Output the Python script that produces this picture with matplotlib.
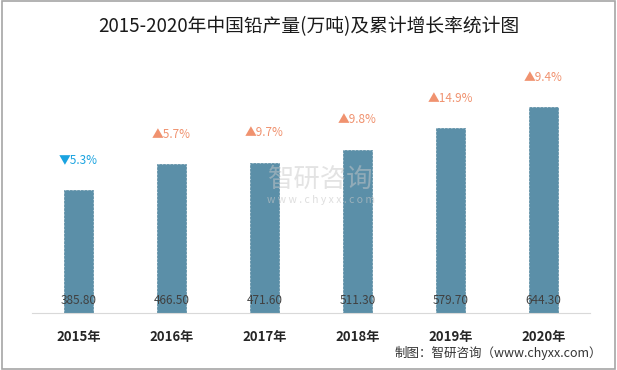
import matplotlib.pyplot as plt
from matplotlib.patches import Rectangle

plt.rcParams['font.family'] = ['Noto Sans CJK SC', 'DejaVu Sans']

years = ['2015年', '2016年', '2017年', '2018年', '2019年', '2020年']
output = [385.80, 466.50, 471.60, 511.30, 579.70, 644.30]
growth = [-5.3, 5.7, 9.7, 9.8, 14.9, 9.4]

fig = plt.figure(figsize=(6.17, 3.70), dpi=100)
ax = fig.add_axes([0.052, 0.154, 0.904, 0.69])

x = range(len(years))
ax.bar(x, output, width=0.31, color='#5B8FA8', edgecolor='#54879F',
       linewidth=0.5, linestyle='--')

for i, v in enumerate(output):
    ax.annotate(f'{v:.2f}', (i, 0), xytext=(0, 13), textcoords='offset pixels',
                ha='center', va='center', fontsize=8.5, color='#404040')
    g = growth[i]
    if g < 0:
        txt, col = f'▼{abs(g)}%', '#1AA3E0'
    else:
        txt, col = f'▲{g}%', '#F0926F'
    ax.annotate(txt, (i, v), xytext=(0, 30), textcoords='offset pixels',
                ha='center', va='center', fontsize=8.5, color=col)

ax.set_xlim(-0.5, len(years) - 0.5)
ax.set_ylim(0, 800)
ax.set_xticks(list(x))
ax.set_xticklabels(years, fontsize=9.5, fontweight='bold', color='#262626')
ax.tick_params(axis='x', length=0, pad=12)
ax.set_yticks([])
for s in ['left', 'right', 'top']:
    ax.spines[s].set_visible(False)
ax.spines['bottom'].set_color('#D9D9D9')

fig.text(0.5, 0.927, '2015-2020年中国铅产量(万吨)及累计增长率统计图',
         ha='center', va='center', fontsize=13.5, color='#1a1a1a')
fig.text(0.975, 0.045, '制图：智研咨询（www.chyxx.com）',
         ha='right', va='center', fontsize=9, color='#333333')

# watermark
fig.text(0.52, 0.515, '智研咨询', ha='center', va='center', fontsize=19,
         color='#C8C8C8', alpha=0.5)
fig.text(0.52, 0.46, 'w w w . c h y x x . c o m', ha='center', va='center',
         fontsize=7.5, color='#C8C8C8', alpha=0.6)

fig.patches.append(Rectangle((0.003, 0.004), 0.994, 0.992, transform=fig.transFigure,
                             fill=False, edgecolor='#A6A6A6', linewidth=1.2))

fig.savefig('out.png', dpi=100)
